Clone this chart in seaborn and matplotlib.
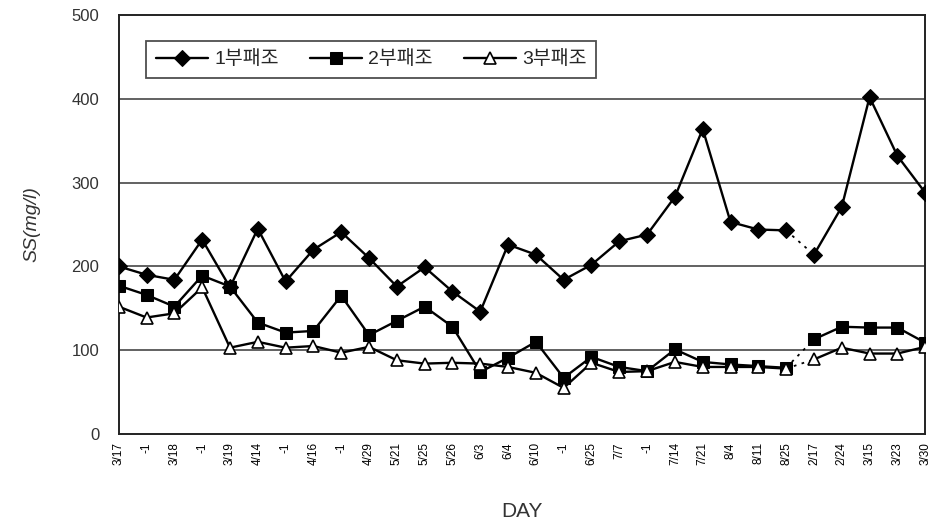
import matplotlib
matplotlib.use("Agg")
import matplotlib.pyplot as plt
import seaborn as sns
import pandas as pd

# x-axis sampling dates (as printed on the chart)
days = ["3/17", "-1", "3/18", "-1", "3/19", "4/14", "-1", "4/16", "-1", "4/29",
        "5/21", "5/25", "5/26", "6/3", "6/4", "6/10", "-1", "6/25", "7/7", "-1",
        "7/14", "7/21", "8/4", "8/11", "8/25", "2/17", "2/24", "3/15", "3/23", "3/30"]

# SS (mg/l) per tank
tank1 = [200, 190, 184, 232, 175, 245, 182, 220, 241, 210,
         176, 199, 170, 146, 226, 214, 184, 202, 230, 238,
         283, 364, 253, 244, 243, 214, 271, 402, 332, 288]
tank2 = [177, 166, 152, 189, 176, 133, 121, 123, 165, 118,
         135, 152, 128, 74, 91, 110, 67, 92, 80, 75,
         101, 86, 83, 81, 79, 113, 128, 127, 127, 109]
tank3 = [152, 139, 144, 175, 103, 110, 103, 105, 97, 104,
         88, 84, 85, 84, 80, 73, 55, 85, 74, 75,
         86, 80, 80, 80, 78, 89, 103, 96, 96, 104]

series_names = ["1부패조", "2부패조", "3부패조"]
break_idx = 24  # dotted link between 8/25 and 2/17

df = pd.DataFrame({"x": range(len(days)), "t1": tank1, "t2": tank2, "t3": tank3})

sns.set_style("white")
plt.rcParams["font.family"] = ["Liberation Sans", "Noto Sans CJK KR", "DejaVu Sans"]

fig = plt.figure(figsize=(9.35, 5.29), dpi=100)
ax = fig.add_axes([0.127, 0.1796, 0.8625, 0.792])

styles = [
    dict(marker="D", markersize=8, markerfacecolor="black", markeredgecolor="black"),
    dict(marker="s", markersize=9, markerfacecolor="black", markeredgecolor="black"),
    dict(marker="^", markersize=9, markerfacecolor="white", markeredgecolor="black",
         markeredgewidth=1.2),
]

handles = []
for col, name, st in zip(["t1", "t2", "t3"], series_names, styles):
    first = df[df["x"] <= break_idx]
    second = df[df["x"] > break_idx]
    link = df[(df["x"] >= break_idx) & (df["x"] <= break_idx + 1)]
    sns.lineplot(data=link, x="x", y=col, ax=ax, color="black", lw=1.3,
                 linestyle=(0, (1.5, 3)), zorder=2)
    sns.lineplot(data=first, x="x", y=col, ax=ax, color="black", lw=1.7,
                 zorder=3, **st)
    handles.append(ax.lines[-1])
    sns.lineplot(data=second, x="x", y=col, ax=ax, color="black", lw=1.7,
                 zorder=3, **st)

ax.set_xlim(0, len(days) - 1)
ax.set_ylim(0, 500)
ax.set_yticks([0, 100, 200, 300, 400, 500])
ax.set_yticklabels(["0", "100", "200", "300", "400", "500"], fontsize=12, color="#333333")
ax.set_xticks(range(len(days)))
ax.set_xticklabels(days, rotation=90, fontsize=8.5)

for v in [100, 200, 300, 400]:
    ax.axhline(v, color="#555555", lw=1.3, zorder=1)

ax.tick_params(axis="x", direction="in", length=4, width=1, pad=6, colors="black")
ax.tick_params(axis="y", length=0, pad=14)
for s in ax.spines.values():
    s.set_visible(True)
    s.set_color("#222222")
    s.set_linewidth(1.4)

ax.set_xlabel("DAY", fontsize=15, color="#333333", labelpad=26)
ax.set_ylabel("SS(mg/l)", fontsize=14, style="italic", color="#333333", labelpad=22)

leg = ax.legend(handles, series_names, loc="upper left", bbox_to_anchor=(0.022, 0.962),
                ncol=3, frameon=True, fancybox=False,
                handlelength=2.7, columnspacing=1.6, borderpad=0.5, handletextpad=0.3,
                prop={"size": 14})
leg.get_frame().set_edgecolor("#222222")
leg.get_frame().set_linewidth(1.3)

fig.savefig("out.png", dpi=100)
